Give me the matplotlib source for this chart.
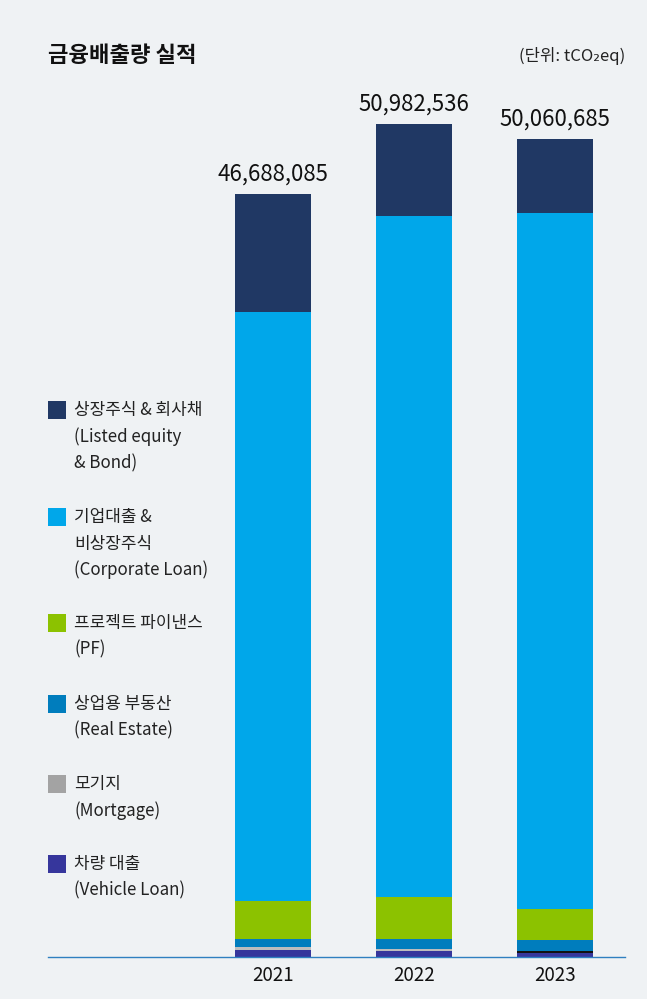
import matplotlib
matplotlib.use("Agg")
import matplotlib.pyplot as plt
from matplotlib.patches import Rectangle
import numpy as np

plt.rcParams['font.family'] = ['Noto Sans CJK KR', 'DejaVu Sans']

years = ['2021', '2022', '2023']
totals = [46688085, 50982536, 50060685]
vehicle = [428000, 367000, 245000]
mortgage = [184000, 122000, 122000]
real_estate = [490000, 612000, 673000]
pf = [2325000, 2570000, 1897000]
corporate = [36040000, 41670000, 42590000]
listed = [t - (v + m + r + p + c) for t, v, m, r, p, c in
          zip(totals, vehicle, mortgage, real_estate, pf, corporate)]

legend_labels = [
    ['상장주식 & 회사채', '(Listed equity', '& Bond)'],
    ['기업대출 &', '비상장주식', '(Corporate Loan)'],
    ['프로젝트 파이낸스', '(PF)'],
    ['상업용 부동산', '(Real Estate)'],
    ['모기지', '(Mortgage)'],
    ['차량 대출', '(Vehicle Loan)'],
]

BG = '#eff2f4'
c_listed = '#203864'
c_corp = '#00a7ea'
c_pf = '#8cc200'
c_re = '#007dbd'
c_mort_leg = '#a3a3a3'
c_mort_bars = ['#bdbdbd', '#bdbdbd', '#111111']
c_veh = '#36369c'

W, H = 647, 999
fig = plt.figure(figsize=(W / 100, H / 100), dpi=100, facecolor=BG)

ax_left, ax_right = 48, 625
base_y, top_y = 957, 90
ax = fig.add_axes([ax_left / W, 1 - base_y / H, (ax_right - ax_left) / W, (base_y - top_y) / H])
ax.set_facecolor(BG)

px_per_unit = 763 / totals[0]
x = np.arange(len(years))
ax.set_xlim(-1.596, 2.496)
ax.set_ylim(0, (base_y - top_y) / px_per_unit)
width = 0.54

series = [vehicle, mortgage, real_estate, pf, corporate, listed]
cols = [c_veh, c_mort_bars, c_re, c_pf, c_corp, c_listed]
bottom = np.zeros(3)
for vals, col in zip(series, cols):
    ax.bar(x, vals, width, bottom=bottom, color=col, linewidth=0)
    bottom += np.array(vals)

for xi, t in zip(x, totals):
    ax.annotate(f'{t:,}', (xi, t), xytext=(0, 6), textcoords='offset points',
                ha='center', va='bottom', fontsize=16, fontweight='medium',
                color='#111111')

for s in ['top', 'right', 'left']:
    ax.spines[s].set_visible(False)
ax.spines['bottom'].set_color('#2f80c0')
ax.spines['bottom'].set_linewidth(1.0)
ax.set_yticks([])
ax.set_xticks(x)
ax.set_xticklabels(years, fontsize=13.5, fontweight='medium', color='#111111')
ax.tick_params(axis='x', length=0, pad=6)

# title and unit
fig.text(48 / W, 1 - 55 / H, '금융배출량 실적', fontsize=16, fontweight='bold',
         color='#111111', ha='left', va='center')
fig.text(625 / W, 1 - 56 / H, '(단위: tCO₂eq)', fontsize=12, color='#222222',
         ha='right', va='center')

# legend
leg_cols = [c_listed, c_corp, c_pf, c_re, c_mort_leg, c_veh]
leg_y = [410, 517, 623, 704, 784, 864]
for col, yc, lines in zip(leg_cols, leg_y, legend_labels):
    fig.patches.append(Rectangle((48 / W, 1 - (yc + 9) / H), 18 / W, 18 / H,
                                 transform=fig.transFigure, facecolor=col,
                                 edgecolor='none'))
    for i, line in enumerate(lines):
        fig.text(74 / W, 1 - (yc + i * 26.5) / H, line, fontsize=12.2,
                 color='#222222', ha='left', va='center')

fig.savefig('out.png', dpi=100, facecolor=BG)
